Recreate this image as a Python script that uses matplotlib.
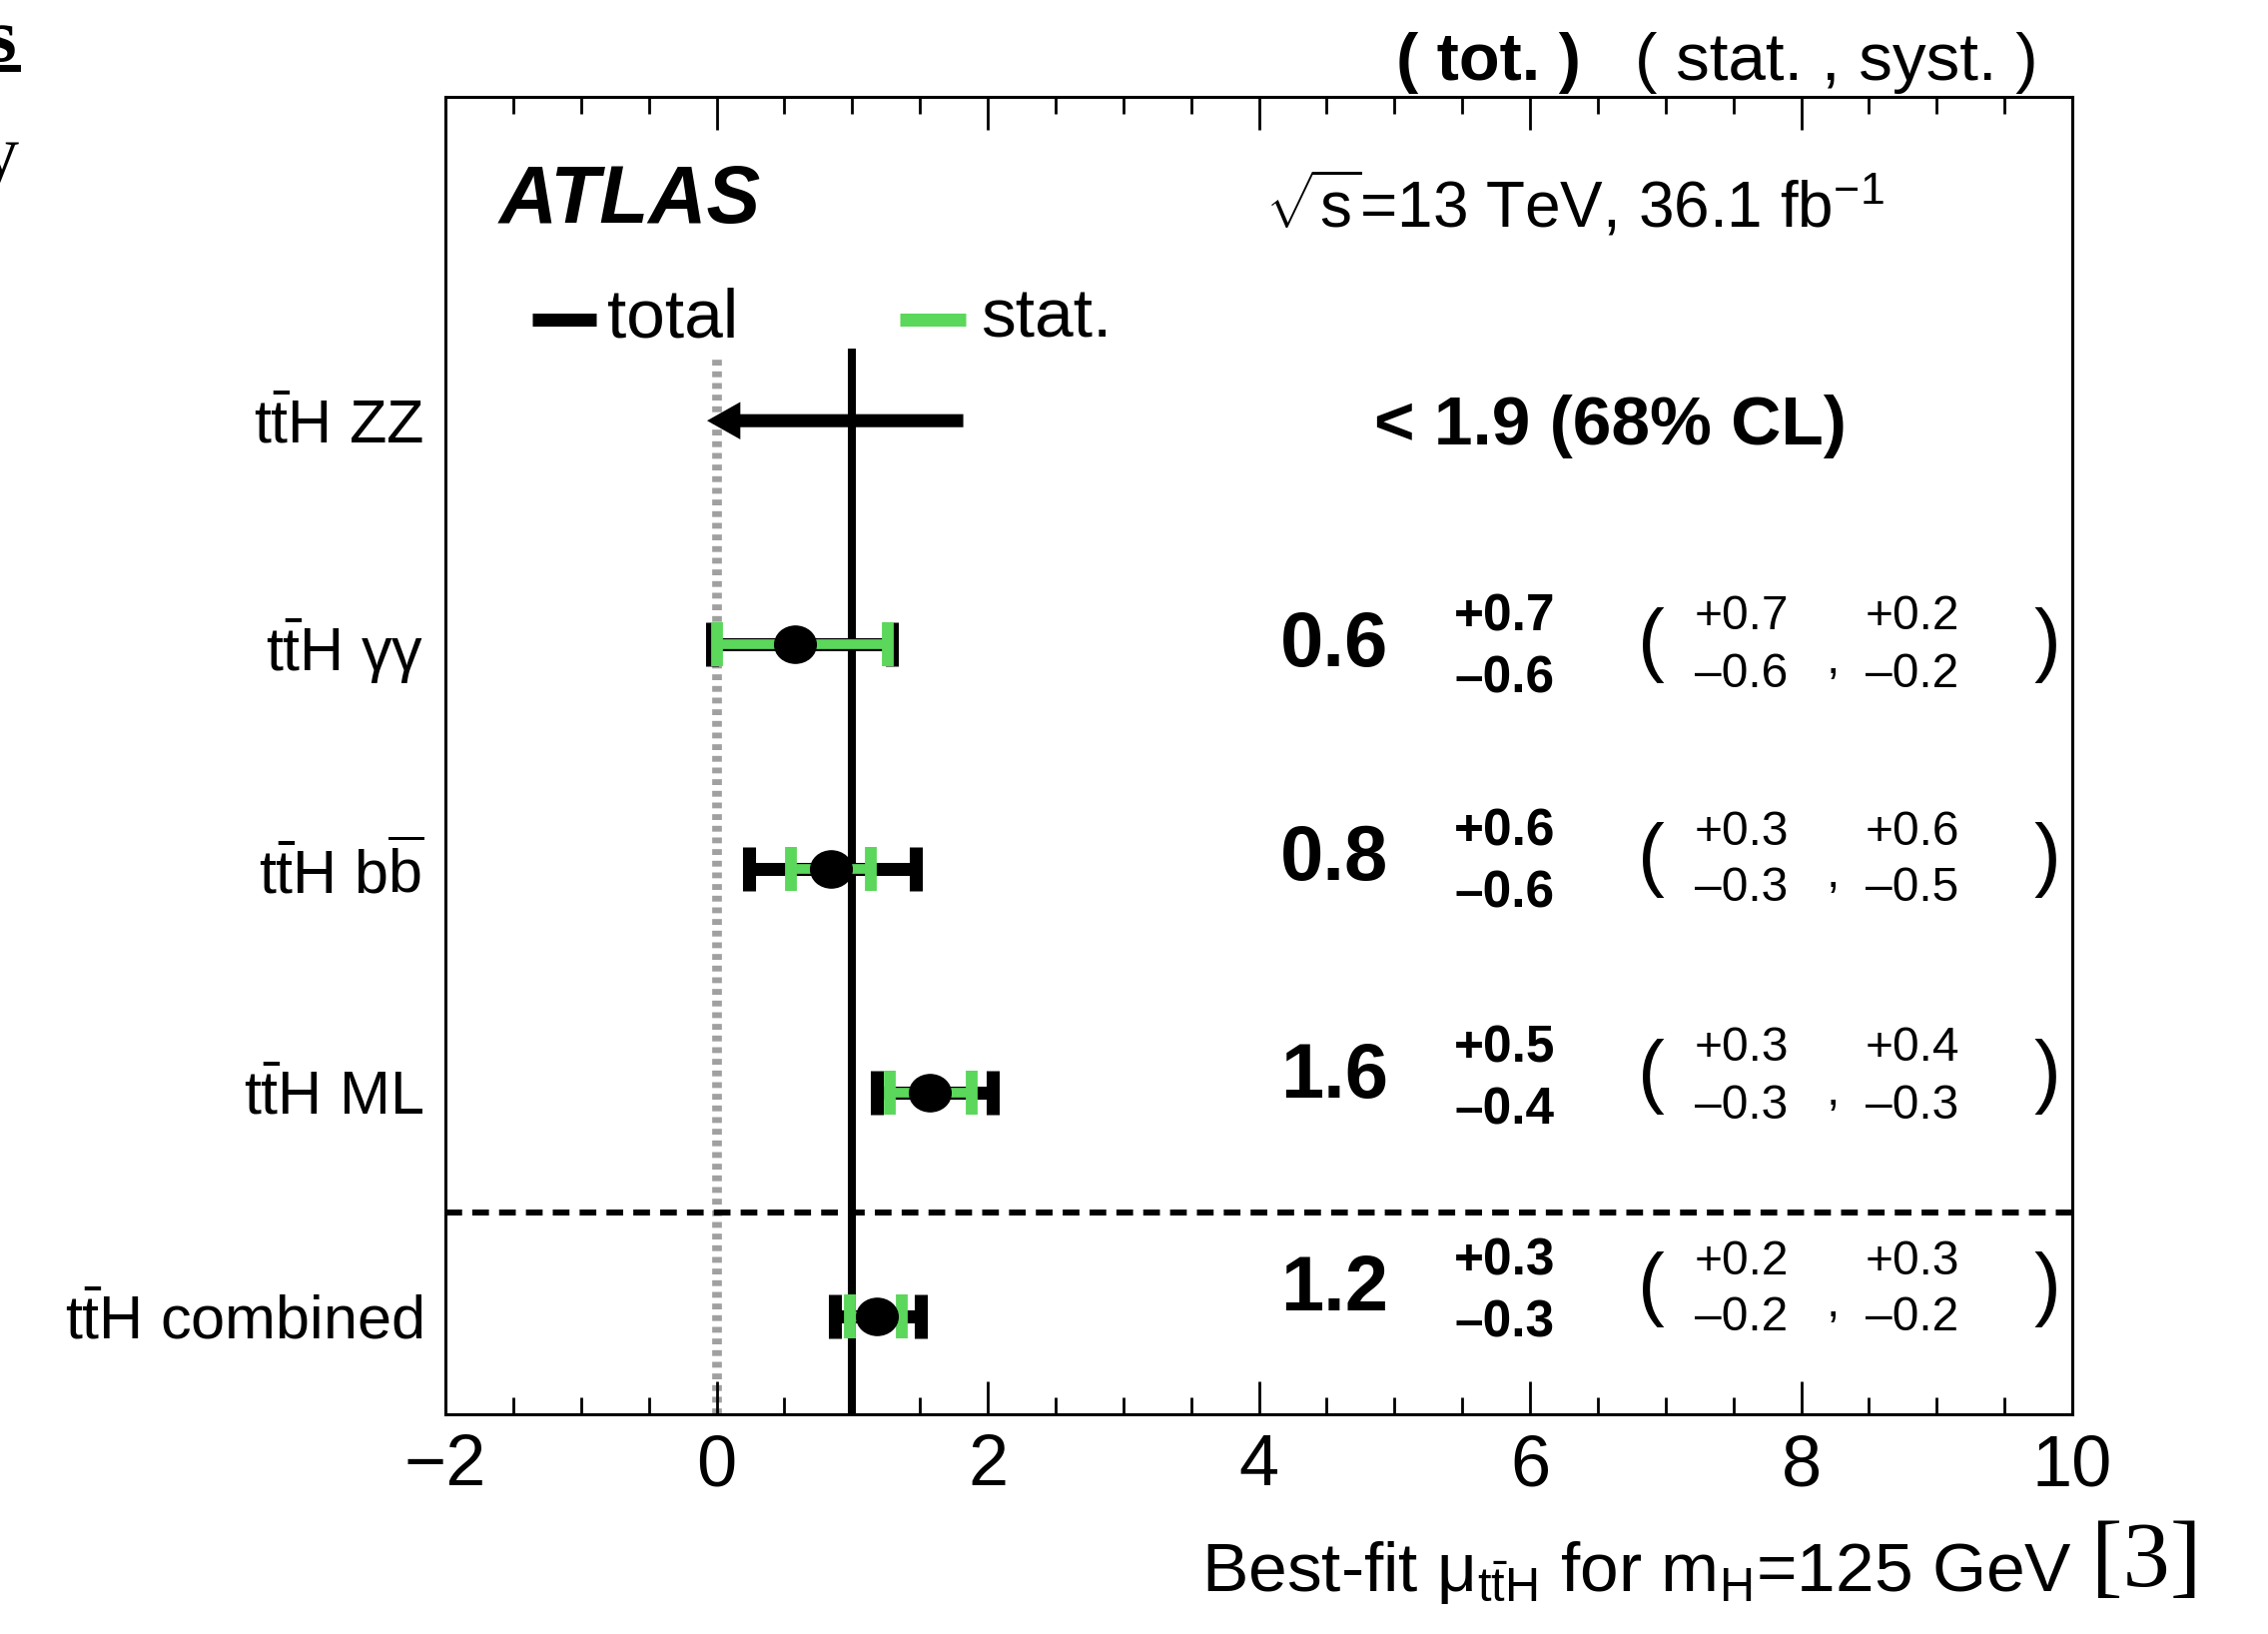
import numpy as np
import matplotlib
matplotlib.use('Agg')
import matplotlib.pyplot as plt
from matplotlib.lines import Line2D
from matplotlib.path import Path
from matplotlib.ticker import MultipleLocator

plt.rcParams['font.family'] = ['Liberation Sans', 'DejaVu Sans']
plt.rcParams['mathtext.fontset'] = 'custom'
plt.rcParams['mathtext.rm'] = 'Liberation Sans'
plt.rcParams['mathtext.it'] = 'Liberation Sans:italic'
plt.rcParams['mathtext.bf'] = 'Liberation Sans:bold'

# channels, top to bottom
labels = [r'$\mathrm{t\bar{t}}$H ZZ', r'$\mathrm{t\bar{t}}$H $\mathrm{\gamma\gamma}$',
          r'$\mathrm{t\bar{t}}$H $\mathrm{b\overline{b}}$', r'$\mathrm{t\bar{t}}$H ML',
          r'$\mathrm{t\bar{t}}$H combined']

# measured channels (gamma gamma, bb, ML, combined)
mu = [0.58, 0.84, 1.57, 1.18]
tot_lo = [0.61, 0.60, 0.39, 0.31]
tot_hi = [0.71, 0.63, 0.47, 0.33]
stat_lo = [0.58, 0.29, 0.29, 0.20]
stat_hi = [0.68, 0.30, 0.31, 0.19]

# ZZ: only an upper limit
zz_line_hi = 1.82
zz_arrow_to = -0.07
zz_text = '< 1.9 (68% CL)'

# numbers printed on the right
central_txt = [0.6, 0.8, 1.6, 1.2]
tot_up_txt = [0.7, 0.6, 0.5, 0.3]
tot_dn_txt = [0.6, 0.6, 0.4, 0.3]
stat_up_txt = [0.7, 0.3, 0.3, 0.2]
stat_dn_txt = [0.6, 0.3, 0.3, 0.2]
syst_up_txt = [0.2, 0.6, 0.4, 0.3]
syst_dn_txt = [0.2, 0.5, 0.3, 0.2]

sm_mu = 1.0
bkg_mu = 0.0

W, H = 2271, 1636
fig = plt.figure(figsize=(W / 100, H / 100), dpi=100)
ax = fig.add_axes([446 / W, 1 - 1416 / H, (2075 - 446) / W, (1416 - 97) / H])

def ftxt(x, y, s, **kw):
    kw.setdefault('va', 'center')
    fig.text(x / W, 1 - y / H, s, **kw)

ypos = np.arange(len(labels))[::-1]
ymeas = ypos[1:]
ylo, yhi = -0.437, 5.446
ax.set_xlim(-2, 10)
ax.set_ylim(ylo, yhi)

green = '#5bd75b'

# reference lines
ax.vlines(bkg_mu, ylo, 4.29, colors='#a0a0a0', lw=7, linestyles=(0, (0.6, 0.6)), zorder=1)
ax.vlines(sm_mu, ylo, 4.32, colors='k', lw=5.8, zorder=2)
ax.axhline(0.465, color='k', lw=4.3, dashes=(2.8, 1.7), zorder=2)

# errors
ax.errorbar(mu, ymeas, xerr=[tot_lo, tot_hi], fmt='none', ecolor='k',
            elinewidth=9.4, capsize=15.8, capthick=9.4, zorder=3)
ax.errorbar(mu, ymeas, xerr=[stat_lo, stat_hi], fmt='none', ecolor=green,
            elinewidth=7, capsize=15.8, capthick=8.5, zorder=4)
circ = Path.unit_circle()
ell = Path(circ.vertices * np.array([1.12, 1.0]), circ.codes)
ax.plot(mu, ymeas, ls='none', marker=ell, ms=30, color='k', zorder=5)

# ZZ arrow
ax.annotate('', xy=(zz_arrow_to, ypos[0]), xytext=(zz_line_hi, ypos[0]),
            arrowprops=dict(facecolor='k', edgecolor='k', lw=0, width=9.4,
                            headwidth=27, headlength=24, shrink=0), zorder=4)

# axes styling
ax.xaxis.set_major_locator(MultipleLocator(2))
ax.xaxis.set_minor_locator(MultipleLocator(0.5))
ax.tick_params(axis='x', which='both', direction='in', top=True, width=2,
               labelsize=52, pad=14)
ax.tick_params(axis='x', which='major', length=24)
ax.tick_params(axis='x', which='minor', length=12)
ax.set_yticks(ypos, labels)
ax.tick_params(axis='y', which='both', length=0, pad=16, labelsize=44)
for sp in ax.spines.values():
    sp.set_linewidth(2.2)

# header texts
ftxt(500, 202, 'ATLAS', fontsize=58, weight='bold', style='italic')
ftxt(1267, 205, r'$\sqrt{\mathrm{s}}$=13 TeV, 36.1 fb$^{\mathrm{-1}}$', fontsize=46)
ftxt(1398, 63, '( tot. )', fontsize=48, weight='bold')
ftxt(1637, 63, '( stat. , syst. )', fontsize=48.5)

# legend
fig.add_artist(Line2D([533 / W, 597 / W], [1 - 320 / H] * 2, color='k', lw=9.4,
                      solid_capstyle='butt'))
fig.add_artist(Line2D([901 / W, 967 / W], [1 - 320 / H] * 2, color=green, lw=9.4,
                      solid_capstyle='butt'))
ftxt(608, 320, 'total', fontsize=50)
ftxt(982, 320, 'stat.', fontsize=50)

ftxt(1376, 427, zz_text, fontsize=50, weight='bold')

row_y = [646, 861, 1078, 1291]
for i, yc in enumerate(row_y):
    ftxt(1282, yc, f'{central_txt[i]:.1f}', fontsize=56, weight='bold')
    ftxt(1456, yc - 28, f'+{tot_up_txt[i]:.1f}', fontsize=37, weight='bold')
    ftxt(1456, yc + 34, f'\u2013{tot_dn_txt[i]:.1f}', fontsize=37, weight='bold')
    ftxt(1640, yc, '(', fontsize=58)
    ftxt(1697, yc - 28, f'+{stat_up_txt[i]:.1f}', fontsize=34.5)
    ftxt(1697, yc + 29, f'\u2013{stat_dn_txt[i]:.1f}', fontsize=34.5)
    ftxt(1829, yc + 15, ',', fontsize=34.5)
    ftxt(1868, yc - 28, f'+{syst_up_txt[i]:.1f}', fontsize=34.5)
    ftxt(1868, yc + 29, f'\u2013{syst_dn_txt[i]:.1f}', fontsize=34.5)
    ftxt(2036, yc, ')', fontsize=58)

# x label and surrounding page fragments
ftxt(2075, 1574, r'Best-fit $\mathrm{\mu}_{\mathrm{t\bar{t}H}}$ for m$_{\mathrm{H}}$=125 GeV',
     fontsize=50, ha='right')
ftxt(2094, 1565, '[3]', fontsize=68, family='Liberation Serif')
ftxt(-13, 42, 's', fontsize=55, family='Liberation Serif', weight='bold')
fig.add_artist(Line2D([0, 17 / W], [1 - 68 / H] * 2, color='k', lw=5))
ftxt(-20, 160, 'y', fontsize=55, family='Liberation Serif')

fig.savefig('out.png', dpi=100)
